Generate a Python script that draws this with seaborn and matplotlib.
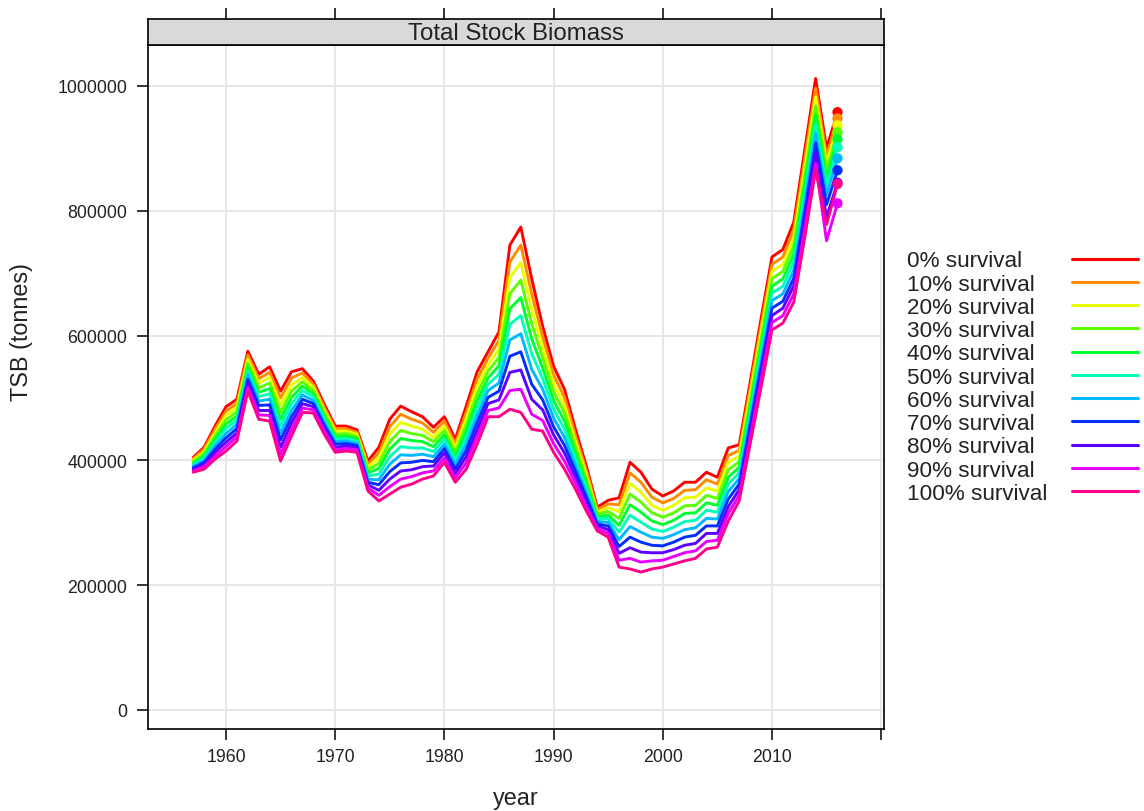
import numpy as np
import pandas as pd
import matplotlib
matplotlib.use("Agg")
import matplotlib.pyplot as plt
from matplotlib.lines import Line2D
from matplotlib.ticker import FuncFormatter
import seaborn as sns

years = np.arange(1957, 2017)

# total stock biomass in thousand tonnes, one list per survival scenario
tsb_0 = [405, 421, 455, 486, 498, 575, 538, 550, 511, 542,
         547, 527, 490, 455, 455, 449, 399, 421, 466, 487,
         478, 470, 453, 470, 434, 487, 542, 574, 606, 745,
         774, 691, 615, 551, 514, 450, 391, 325, 336, 340,
         397, 381, 354, 343, 351, 365, 365, 381, 373, 420,
         425, 525, 627, 726, 738, 782, 897, 1012, 900, 958]
tsb_10 = [403, 418, 450, 479, 491, 569, 531, 541, 500, 532,
          540, 522, 485, 451, 451, 445, 394, 412, 454, 474,
          466, 460, 445, 463, 427, 477, 530, 564, 592, 718,
          745, 667, 598, 537, 501, 440, 384, 321, 330, 329,
          380, 365, 341, 332, 339, 352, 353, 369, 362, 408,
          416, 515, 616, 714, 726, 769, 883, 997, 888, 948]
tsb_20 = [400, 414, 444, 472, 485, 562, 524, 533, 489, 521,
          533, 517, 480, 447, 447, 442, 389, 404, 442, 461,
          455, 450, 437, 455, 420, 467, 519, 553, 579, 693,
          717, 643, 581, 523, 488, 431, 377, 317, 324, 318,
          363, 349, 328, 320, 328, 340, 341, 356, 351, 397,
          407, 505, 605, 703, 714, 756, 869, 983, 876, 937]
tsb_30 = [398, 411, 439, 465, 478, 556, 516, 524, 477, 511,
          526, 512, 476, 442, 443, 438, 385, 395, 430, 448,
          443, 440, 430, 448, 413, 457, 507, 543, 565, 667,
          689, 619, 565, 510, 476, 421, 369, 314, 318, 307,
          346, 333, 316, 309, 316, 327, 328, 344, 339, 385,
          398, 495, 594, 691, 703, 744, 855, 968, 864, 926]
tsb_40 = [395, 407, 434, 458, 471, 549, 509, 515, 466, 501,
          519, 507, 471, 438, 439, 435, 380, 387, 418, 435,
          432, 430, 422, 441, 406, 447, 496, 532, 552, 643,
          661, 595, 548, 496, 463, 412, 362, 310, 312, 296,
          329, 317, 303, 297, 304, 315, 316, 332, 328, 373,
          389, 485, 583, 679, 691, 731, 841, 953, 852, 915]
tsb_50 = [393, 404, 429, 451, 465, 543, 502, 507, 455, 491,
          512, 502, 466, 434, 435, 431, 375, 378, 406, 422,
          420, 420, 414, 434, 400, 437, 484, 522, 538, 618,
          632, 571, 531, 482, 450, 402, 355, 306, 307, 285,
          312, 301, 290, 286, 293, 302, 304, 320, 317, 362,
          380, 476, 572, 668, 679, 718, 827, 939, 840, 902]
tsb_60 = [391, 400, 423, 443, 458, 537, 495, 498, 444, 480,
          505, 496, 461, 430, 431, 427, 370, 369, 394, 409,
          408, 410, 406, 426, 393, 426, 472, 512, 524, 593,
          603, 546, 514, 468, 437, 392, 348, 302, 301, 273,
          294, 285, 277, 275, 281, 289, 292, 307, 306, 350,
          371, 466, 561, 656, 667, 705, 813, 924, 826, 884]
tsb_70 = [388, 397, 418, 436, 451, 530, 488, 489, 433, 470,
          498, 491, 456, 426, 427, 424, 365, 361, 382, 396,
          397, 400, 398, 419, 386, 416, 461, 501, 511, 567,
          574, 522, 497, 454, 424, 383, 341, 298, 295, 262,
          277, 269, 264, 263, 269, 277, 280, 295, 295, 338,
          362, 456, 550, 644, 655, 692, 799, 909, 810, 865]
tsb_80 = [386, 393, 413, 429, 444, 524, 480, 480, 421, 460,
          491, 486, 452, 421, 423, 420, 361, 352, 370, 383,
          385, 390, 391, 412, 379, 406, 449, 491, 497, 541,
          545, 498, 481, 441, 412, 373, 333, 295, 289, 251,
          260, 253, 252, 252, 257, 264, 267, 283, 283, 326,
          353, 446, 539, 632, 644, 680, 785, 893, 790, 845]
tsb_90 = [383, 390, 407, 422, 438, 517, 473, 472, 410, 449,
          484, 481, 447, 417, 419, 417, 356, 344, 358, 370,
          374, 380, 383, 404, 372, 396, 438, 480, 484, 512,
          514, 474, 464, 427, 399, 364, 326, 291, 283, 240,
          243, 237, 239, 240, 246, 252, 255, 270, 272, 315,
          344, 436, 528, 621, 632, 667, 771, 875, 752, 812]
tsb_100 = [381, 386, 402, 415, 431, 511, 466, 463, 399, 439,
           477, 476, 442, 413, 415, 413, 351, 335, 346, 357,
           362, 370, 375, 397, 365, 386, 426, 470, 470, 482,
           477, 450, 447, 413, 386, 354, 319, 287, 277, 229,
           226, 221, 226, 229, 234, 239, 243, 258, 261, 303,
           335, 426, 517, 609, 620, 654, 757, 866, 778, 843]

labels = ["0% survival", "10% survival", "20% survival", "30% survival",
          "40% survival", "50% survival", "60% survival", "70% survival",
          "80% survival", "90% survival", "100% survival"]
# same as R's rainbow(11)
colors = ["#FF0000", "#FF8B00", "#E8FF00", "#5DFF00", "#00FF2E", "#00FFB9",
          "#00B9FF", "#002EFF", "#5D00FF", "#E800FF", "#FF008B"]

series = [tsb_0, tsb_10, tsb_20, tsb_30, tsb_40, tsb_50,
          tsb_60, tsb_70, tsb_80, tsb_90, tsb_100]

frames = []
for lab, vals in zip(labels, series):
    frames.append(pd.DataFrame({"year": years, "tsb": np.array(vals) * 1000, "scenario": lab}))
df = pd.concat(frames, ignore_index=True)
last = df[df["year"] == df["year"].max()]

sns.set_theme(style="white")
plt.rcParams["font.family"] = ["Liberation Sans", "DejaVu Sans"]

W, H = 1144, 812
fig = plt.figure(figsize=(W / 100, H / 100), dpi=100)
ax = fig.add_axes([148 / W, 1 - 730 / H, 736 / W, 684 / H])
strip = fig.add_axes([148 / W, 1 - 46 / H, 736 / W, 26 / H])

sns.lineplot(data=df, x="year", y="tsb", hue="scenario", hue_order=labels,
             palette=colors, linewidth=2.1, legend=False, ax=ax)
sns.scatterplot(data=last, x="year", y="tsb", hue="scenario", hue_order=labels,
                palette=colors, s=55, edgecolor="none", legend=False, ax=ax, zorder=4)

xlim = (1952.86, 2020.26)
xticks = [1960, 1970, 1980, 1990, 2000, 2010, 2020]
ax.set_xlim(*xlim)
ax.set_ylim(-30450, 1065700)
ax.set_xticks(xticks)
ax.set_xticklabels([str(t) for t in xticks[:-1]] + [""])
ax.set_yticks([0, 200000, 400000, 600000, 800000, 1000000])
ax.yaxis.set_major_formatter(FuncFormatter(lambda v, p: f"{int(v)}"))
ax.grid(True, color="#e6e6e6", lw=1.4)
ax.set_axisbelow(True)
for sp in ax.spines.values():
    sp.set_color("black")
    sp.set_linewidth(1.2)
ax.tick_params(axis="both", direction="out", length=8, width=1.1, color="black",
               labelsize=12.8, labelcolor="#222222", bottom=True, left=True)
ax.tick_params(axis="y", pad=7)
ax.tick_params(axis="x", pad=6)
ax.set_xlabel("year", fontsize=16.8, color="#222222")
ax.set_ylabel("TSB (tonnes)", fontsize=16.8, color="#222222")
ax.xaxis.set_label_coords(0.5, -0.083)
ax.yaxis.set_label_coords(-0.156, 0.582)

# lattice style strip with ticks on top
strip.set_facecolor("#d9d9d9")
strip.set_xlim(*xlim)
strip.set_yticks([])
strip.xaxis.tick_top()
strip.set_xticks(xticks)
strip.tick_params(axis="x", top=True, bottom=False, labeltop=False, direction="out",
                  length=8, width=1.1, color="black")
for sp in strip.spines.values():
    sp.set_color("black")
    sp.set_linewidth(1.2)
strip.text(0.5, 0.45, "Total Stock Biomass", transform=strip.transAxes,
           ha="center", va="center", fontsize=17.3, color="#222222")

# key on the right: text left, line right
for i, (lab, col) in enumerate(zip(labels, colors)):
    yy = 1 - (259.5 + i * 23.25) / H
    fig.text(907 / W, yy, lab, fontsize=16.2, ha="left", va="center_baseline", color="#222222")
    fig.add_artist(Line2D([1072 / W, 1138 / W], [yy, yy], color=col, lw=2.2))

fig.savefig("out.png", dpi=100)
